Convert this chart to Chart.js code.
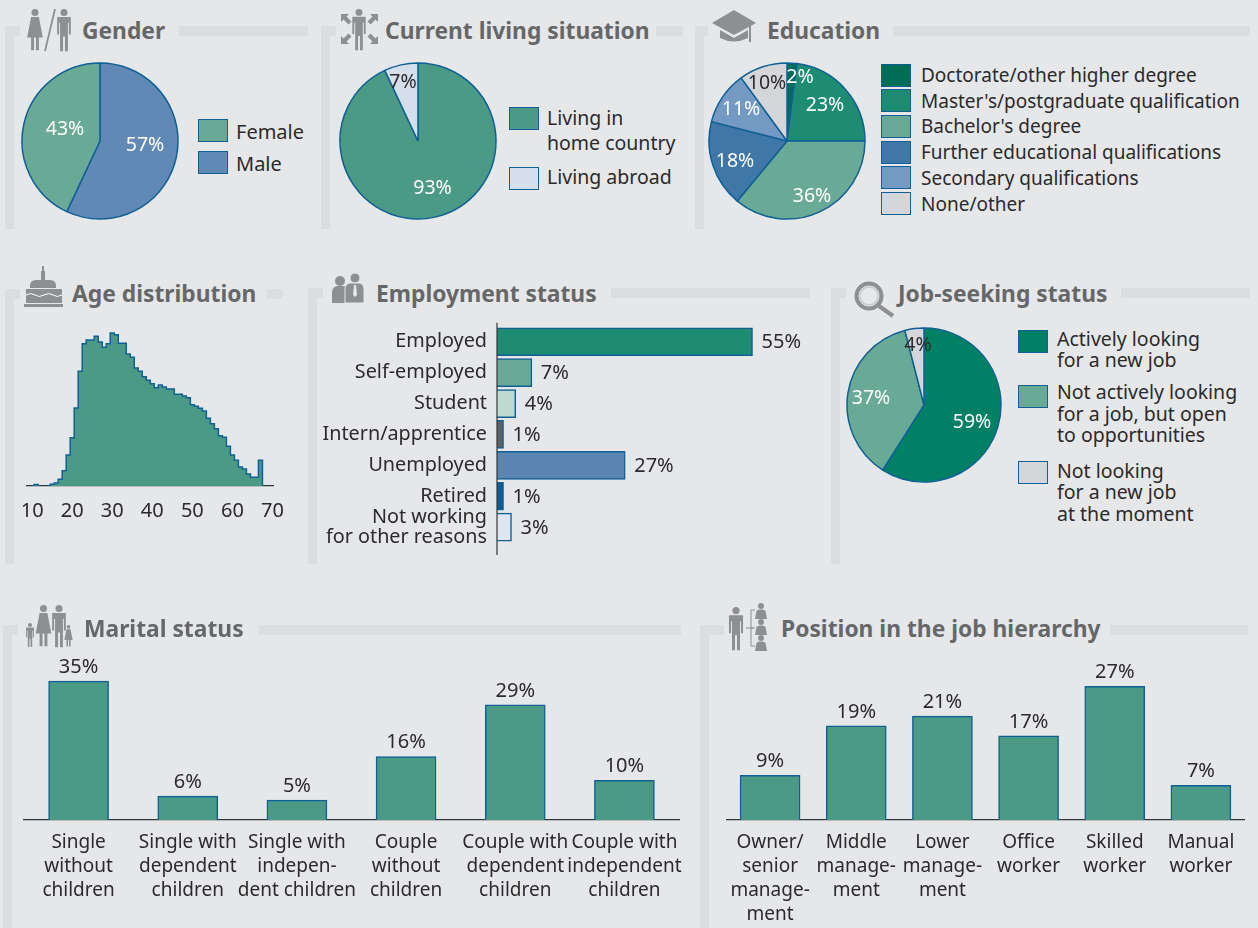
<!DOCTYPE html>
<html><head><meta charset="utf-8">
<script src="https://cdn.jsdelivr.net/npm/chart.js@4/dist/chart.umd.min.js"></script>
<style>
html,body{margin:0;padding:0;background:#E6E7E9;width:1258px;height:928px;overflow:hidden}
body{font-family:"Noto Sans",sans-serif;color:#2B2A2C;position:relative}
canvas{position:absolute;display:block}
.t{position:absolute;font-weight:700;font-size:22.8px;line-height:30px;color:#666769;white-space:nowrap}
.l{position:absolute;font-size:19.5px;line-height:24px;color:#2B2A2C;white-space:nowrap}
.s{position:absolute;box-sizing:border-box;border:1.5px solid #0F6096;width:30px;height:23px}
svg{position:absolute;left:0;top:0}
</style></head><body>
<svg id="deco" width="1258" height="928"></svg>
<script>
// ---------- data ----------
const genderLabels=["Male","Female"];
const genderValues=[57,43];
const livingLabels=["Living in home country","Living abroad"];
const livingValues=[93,7];
const educationLabels=["Doctorate/other higher degree","Master's/postgraduate qualification","Bachelor's degree","Further educational qualifications","Secondary qualifications","None/other"];
const educationValues=[2,23,36,18,11,10];
const jobSeekLabels=["Actively looking for a new job","Not actively looking for a job, but open to opportunities","Not looking for a new job at the moment"];
const jobSeekValues=[59,37,4];
const ageYears=[10,11,12,13,14,15,16,17,18,19,20,21,22,23,24,25,26,27,28,29,30,31,32,33,34,35,36,37,38,39,40,41,42,43,44,45,46,47,48,49,50,51,52,53,54,55,56,57,58,59,60,61,62,63,64,65,66,67,68];
const ageShares=[0,1.4,0,0,0,1.7,3,6.7,15.3,31,48.3,78,114.7,142.3,146,146,149.7,144,138.7,142.3,153,151.3,142.7,142.7,132,128.7,118,114.7,109.3,105.7,102.3,98.3,101,99,97,97,91.7,91.7,90,88.3,81.3,79.7,77.7,75,67.7,62.3,57.3,50.3,48.7,39.7,31,25.7,19,17,12,8.7,8.7,25.7,0];
const employmentLabels=["Employed","Self-employed","Student","Intern/apprentice","Unemployed","Retired",["Not working","for other reasons"]];
const employmentValues=[54.6,7.45,4,1.4,27.4,1.4,3.1];
const maritalLabels=[["Single","without","children"],["Single with","dependent","children"],["Single with","indepen-","dent children"],["Couple","without","children"],["Couple with","dependent","children"],["Couple with","independent","children"]];
const maritalValues=[35,6,5,16,29,10];
const hierarchyLabels=[["Owner/","senior","manage-","ment"],["Middle","manage-","ment"],["Lower","manage-","ment"],["Office","worker"],["Skilled","worker"],["Manual","worker"]];
const hierarchyValues=[9,19,21,17,27,7];

// ---------- style ----------
const FONT='"Noto Sans"';
const INK='#2B2A2C', EDGE='#0F6096';
const G1='#1D8C72',G2='#69AA96',G3='#4A9A85',G0='#006E56',GA='#028066';
const B1='#6089B5',B2='#3F78A8',B3='#7499C2',GY='#D4D6D9',LB='#D5DFEB';
Chart.defaults.font.family=FONT;
Chart.defaults.animation=false;
Chart.defaults.responsive=false;
Chart.defaults.plugins.legend.display=false;
Chart.defaults.plugins.tooltip.enabled=false;

function mk(x,y,w,h){
  const c=document.createElement('canvas');
  c.width=w;c.height=h;c.style.left=x+'px';c.style.top=y+'px';c.style.width=w+'px';c.style.height=h+'px';
  document.body.appendChild(c);return c;
}
// slice percent labels, placed relative to the pie centre
const pieText={id:'pieText',afterDatasetsDraw(ch,_,o){
  const c=ch.ctx,m=ch.getDatasetMeta(0);c.save();c.font='19.5px '+FONT;c.textAlign='center';c.textBaseline='middle';
  m.data.forEach((a,i)=>{c.fillStyle=o.colors[i];c.fillText(ch.data.datasets[0].data[i]+'%',a.x+o.at[i][0],a.y+o.at[i][1]+1);});
  c.restore();}};
function pie(cx,cy,r,labels,values,colors,at,textColors){
  const s=2*r+6;
  new Chart(mk(cx-s/2,cy-s/2,s,s),{type:'pie',plugins:[pieText],
    data:{labels,datasets:[{data:values,backgroundColor:colors,borderColor:EDGE,borderWidth:1.5}]},
    options:{radius:r,layout:{padding:0},plugins:{pieText:{at,colors:textColors}}}});
}
const W='#FFFFFF';
pie(100,141,78,genderLabels,genderValues,[B1,G2],[[45,3],[-35,-13]],[W,W]);
pie(417.5,141,78,livingLabels,livingValues,[G3,LB],[[14.5,46],[-15,-60]],[W,INK]);
pie(787,141,78,educationLabels,educationValues,[G0,G1,G2,B2,B3,GY],[[13,-65],[38,-37],[25,54],[-52,19],[-46,-33],[-20,-59]],[W,W,W,W,W,INK]);
pie(924,404.5,77,jobSeekLabels,jobSeekValues,[GA,G2,GY],[[48,16],[-53,-8],[-6,-61]],[W,W,INK]);

// value labels above / beside bars
const barText={id:'barText',afterDatasetsDraw(ch,_,o){
  const c=ch.ctx,m=ch.getDatasetMeta(0);c.save();c.font='20px '+FONT;c.fillStyle=INK;
  m.data.forEach((b,i)=>{
    const t=Math.round(ch.data.datasets[0].data[i])+'%';
    if(o.horizontal){c.textAlign='left';c.textBaseline='middle';c.fillText(t,b.x+9,b.y+1);}
    else{c.textAlign='center';c.textBaseline='middle';c.fillText(t,b.x,b.y-14);}
  });
  c.restore();}};

function columns(left,width,top,base,perUnit,labels,values){
  const cx=left-20,cy=top,cw=width+40,ch=928-top;
  new Chart(mk(cx,cy,cw,ch),{type:'bar',plugins:[barText],
    data:{labels,datasets:[{data:values,backgroundColor:G3,borderColor:EDGE,borderWidth:1.5,barThickness:60}]},
    options:{layout:{padding:{left:20,right:20,top:0,bottom:0}},
      plugins:{barText:{}},
      scales:{
        x:{afterFit(s){s.height=cy+ch-base;s.paddingLeft=0;s.paddingRight=0;},grid:{display:false,drawTicks:false},border:{color:'#333436',width:1.2},
           ticks:{color:INK,font:{size:19,lineHeight:24/19},padding:11,maxRotation:0,autoSkip:false}},
        y:{display:false,min:0,max:(base-top)/perUnit}
      }}});
}
columns(23.9,655.2,640,820,3.97,maritalLabels,maritalValues);
columns(726.9,517.2,650,820,4.95,hierarchyLabels,hierarchyValues);

// employment: horizontal bars
const axisLine={id:'axisLine',afterDatasetsDraw(ch){
  const c=ch.ctx,a=ch.chartArea;c.save();c.strokeStyle='#333436';c.lineWidth=1.2;c.beginPath();
  c.moveTo(a.left,a.top-3.5);c.lineTo(a.left,a.bottom+12.5);c.stroke();c.restore();}};
new Chart(mk(300,322,530,240),{type:'bar',plugins:[barText,axisLine],
  data:{labels:employmentLabels,datasets:[{data:employmentValues,
    backgroundColor:[G1,G2,'#BDD9D0','#5F6062','#5A85B0','#0E5C94','#DEE6EF'],borderColor:EDGE,borderWidth:1.5,barThickness:28}]},
  options:{indexAxis:'y',layout:{padding:{top:4.3,bottom:19.4,left:0,right:0}},
    plugins:{barText:{horizontal:true}},
    scales:{
      x:{display:false,min:0,max:333/4.68},
      y:{afterFit(s){s.width=197;s.paddingTop=0;s.paddingBottom=0;},grid:{display:false,drawTicks:false},border:{display:false},
         ticks:{color:INK,font:{size:19.8,lineHeight:20/19.8},padding:10,autoSkip:false}}
    }}});

// age histogram
const ageData=ageYears.map((x,i)=>({x,y:ageShares[i]}));
new Chart(mk(7,318,290,206),{type:'line',
  data:{datasets:[{data:ageData,stepped:'middle',fill:'origin',backgroundColor:G3,borderColor:EDGE,borderWidth:1.5,pointRadius:0,
    segment:{borderColor:c=>(c.p0.parsed.y===0&&c.p1.parsed.y===0)?'transparent':undefined}}]},
  options:{layout:{padding:{left:20,right:21,top:4,bottom:0}},
    scales:{
      x:{type:'linear',min:8.72,max:70.28,afterFit(s){s.height=38;},
         grid:{display:false,drawTicks:false},border:{color:'#333436',width:1.2},
         ticks:{stepSize:10,includeBounds:false,color:INK,font:{size:20},padding:13,maxRotation:0,autoSkip:false,callback:v=>v}},
      y:{display:false,min:0,max:164}
    }}});

// ---------- text, legends ----------
function add(cls,x,y,txt,extra){const d=document.createElement('div');d.className=cls;d.style.left=x+'px';d.style.top=y+'px';d.textContent=txt;if(extra)Object.assign(d.style,extra);document.body.appendChild(d);return d;}
[["Gender",82,15.5],["Current living situation",385,15.5],["Education",767,15.5],["Age distribution",72,279],["Employment status",376,279],["Job-seeking status",898,279],["Marital status",84,614],["Position in the job hierarchy",781,614]].forEach(t=>add('t',t[1],t[2],t[0]));
function sw(x,y,c){add('s',x,y,'',{background:c});}
function lg(x,cy,txt,size){const d=add('l',x,cy-12,txt);if(size)d.style.fontSize=size+'px';}
sw(198,119,G2);lg(236,132,genderLabels[1],20);
sw(198,151,B1);lg(236,164,genderLabels[0],20);
sw(509,107,G3);lg(547,118,"Living in");lg(547,143,"home country");
sw(509,167,LB);lg(547,177,livingLabels[1]);
educationLabels.forEach((t,i)=>{const cy=75+i*25.7;sw(881,cy-11.5,[G0,G1,G2,B2,B3,GY][i]);lg(921,cy,t,19);});
sw(1018,330,GA);lg(1057,339,"Actively looking");lg(1057,360,"for a new job");
sw(1018,384.5,G2);lg(1057,392,"Not actively looking");lg(1057,414,"for a job, but open");lg(1057,435,"to opportunities");
sw(1018,461,GY);lg(1057,471,"Not looking");lg(1057,492,"for a new job");lg(1057,514,"at the moment");

// ---------- decoration ----------
let s='';const BR='#DCDDE0',IC='#8E8F92',BG='#E6E7E9';
function R(x,y,w,h,c){s+=`<rect x="${x}" y="${y}" width="${w}" height="${h}" fill="${c||BR}"/>`;}
function bracket(x,y,b,tr,r0,r1){R(x,y,9,b-y);R(x,y,tr-x,10);R(r0,y,r1-r0,10);}
bracket(5,26,229,20,179,308);
bracket(321,26,229,336,656,683);
bracket(695,26,229,708,893,1250);
bracket(5,289,564,20,267,283);
bracket(308,288,564,323,611,810);
bracket(831,288,564,846,1121,1250);
bracket(3,625,928,18,259,681);
bracket(700,625,928,724,1110,1248);
function person(cx,top,h,dress,c){c=c||IC;const k=h/43,hr=3.6*k;
  s+=`<circle cx="${cx}" cy="${top+hr}" r="${hr}" fill="${c}"/>`;
  const y0=top+2*hr+k;
  if(dress){s+=`<path d="M${cx-4*k} ${y0}h${8*k}l${4*k} ${21*k}h${-4*k}v${13*k}h${-3*k}v${-13*k}h${-2*k}v${13*k}h${-3*k}v${-13*k}h${-4*k}z" fill="${c}"/>`;}
  else{s+=`<path d="M${cx-7*k} ${y0}h${14*k}v${18*k}h${-2*k}v${-12*k}h${-k}v${29*k}h${-3*k}v${-15*k}h${-2*k}v${15*k}h${-3*k}v${-29*k}h${-k}v${12*k}h${-2*k}z" fill="${c}"/>`;}
}
function suit(cx,top,h){const k=h/16;
  s+=`<circle cx="${cx}" cy="${top+3*k}" r="${3*k}" fill="${IC}"/><path d="M${cx-6*k} ${top+16*k}l${1.5*k} ${-8*k}q${1*k} ${-1.5*k} ${3*k} ${-1.5*k}h${3*k}q${2*k} 0 ${3*k} ${1.5*k}l${1.5*k} ${8*k}z" fill="${IC}"/>`;}
// gender
person(35,9,42,true);person(64,9,42,false);
s+=`<line x1="45" y1="51" x2="55" y2="9" stroke="${IC}" stroke-width="1.8"/>`;
// living: person with four outward arrows
person(359,9,41,false);
[[341,14,1,1],[378,14,-1,1],[341,44,1,-1],[378,44,-1,-1]].forEach(a=>{const [x,y,d,e]=a;
  s+=`<path d="M${x} ${y}h${8*d}l${-2.5*d} ${2.5*e}l${5*d} ${5*e}l${-3*d} ${3*e}l${-5*d} ${-5*e}l${-2.5*d} ${2.5*e}z" fill="${IC}"/>`;});
// cap
s+=`<path d="M712 23l22-13 22 13-22 12z" fill="${IC}"/><path d="M720 30l14 8 14-8v8q-14 7-28 0z" fill="${IC}"/><rect x="749" y="26" width="2" height="16" fill="${IC}"/>`;
// cake
s+=`<rect x="42" y="266" width="2" height="5" fill="${IC}"/><rect x="41" y="271" width="4" height="9" fill="${IC}"/><path d="M30 286q0-6 6-6h14q6 0 6 6v2H30z" fill="${IC}"/><rect x="26" y="289" width="36" height="14" fill="${IC}"/><path d="M26 295q5-3 9 0t9 0 9 0 9 0" stroke="#fff" stroke-width="1" fill="none"/><rect x="24" y="304" width="39" height="3" fill="${IC}"/>`;
// employment
s+=`<circle cx="340" cy="281" r="5" fill="${IC}"/><path d="M332 303v-10q0-6 5-7h7q4 1 4 7v10z" fill="${IC}"/><circle cx="355" cy="278" r="5" fill="${IC}" stroke="${BG}" stroke-width="1"/><path d="M345 303v-14q0-5 5-6h10q4 1 4 6v14z" fill="${IC}" stroke="${BG}" stroke-width="1"/><path d="M354 285h2l1 10-2 2-2-2z" fill="${BG}"/>`;
// magnifier
s+=`<circle cx="869" cy="296" r="12.5" fill="none" stroke="${IC}" stroke-width="4"/><circle cx="869" cy="296" r="9" fill="none" stroke="#C9CACD" stroke-width="1.5"/><line x1="879" y1="306" x2="893" y2="316" stroke="${IC}" stroke-width="4"/>`;
// marital
person(43.5,605,42,true);person(59,605,42,false);person(30,623,24,false);person(68.5,625,22,true);
// hierarchy
person(736,607,43,false);
s+=`<path d="M746 628h7M751 610v36M751 610h4M751 628h4M751 646h4" stroke="${IC}" stroke-width="1" fill="none"/>`;
suit(761,603,16);suit(761,619,16);suit(761,635,16);
document.getElementById('deco').innerHTML=s;
</script>
</body></html>
